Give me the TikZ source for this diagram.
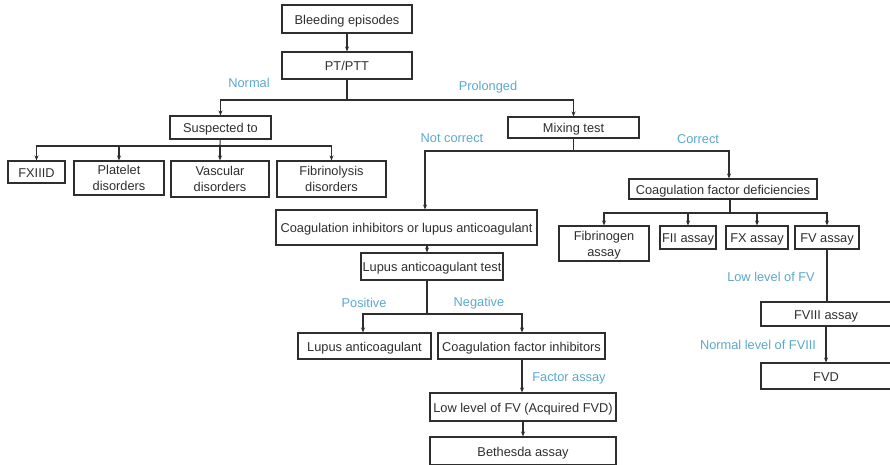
\documentclass[tikz,border=0pt]{standalone}
\usepackage{fontspec}
\setmainfont{Liberation Sans}
\usetikzlibrary{arrows.meta}
\definecolor{ink}{HTML}{2E2E2E}
\definecolor{branch}{HTML}{5BA8CB}
\begin{document}
\begin{tikzpicture}[x=1pt,y=-1pt,
  font=\fontsize{12.8}{16}\selectfont,
  box/.style={draw=ink,line width=1.1pt,text=ink,inner sep=0pt,
    minimum width=#1,text height=10.5pt,text depth=0.5pt},
  tallbox/.style={draw=ink,line width=1.1pt,text=ink,inner sep=0pt,align=center,
    minimum width=#1,text depth=-1pt},
  lbl/.style={text=branch,inner sep=0pt},
  link/.style={draw=ink,line width=1.1pt},
  arr/.style={link,-{Stealth[length=5pt,width=4pt]}}]
\useasboundingbox (0,0) rectangle (890,464);

% boxes
\node[box=130,minimum height=28] (bleed) at (347,19) {Bleeding episodes};
\node[box=130,minimum height=27] (pt) at (347,65.5) {PT/PTT};
\node[box=101,minimum height=23] (susp) at (220.5,127.5) {Suspected to};
\node[box=57,minimum height=22] (fxiii) at (36.5,172) {FXIIID};
\node[tallbox=90,minimum height=34] (plat) at (119,178) {Platelet\\disorders};
\node[tallbox=98,minimum height=36] (vasc) at (220,179) {Vascular\\disorders};
\node[tallbox=109,minimum height=36] (fibl) at (331.5,179) {Fibrinolysis\\disorders};
\node[box=131,minimum height=21] (mix) at (573.5,127.5) {Mixing test};
\node[box=261,minimum height=35] (cila) at (406.5,227.5) {Coagulation inhibitors or lupus anticoagulant};
\node[box=142,minimum height=27] (lat) at (432,266.5) {Lupus anticoagulant test};
\node[box=133,minimum height=26] (la) at (364.5,346) {Lupus anticoagulant};
\node[box=167,minimum height=26] (cfi) at (521.5,346) {Coagulation factor inhibitors};
\node[box=186,minimum height=28] (lowfv) at (523,407) {Low level of FV (Acquired FVD)};
\node[box=186,minimum height=28] (beth) at (523,451) {Bethesda assay};
\node[box=188,minimum height=20] (cfd) at (723,189) {Coagulation factor deficiencies};
\node[tallbox=90,minimum height=35] (fib) at (604,243.5) {Fibrinogen\\assay};
\node[box=56,minimum height=23] (f2) at (688,237.5) {FII assay};
\node[box=62,minimum height=23] (fx) at (757,237.5) {FX assay};
\node[box=64,minimum height=23] (fv) at (827,237.5) {FV assay};
\node[box=130,minimum height=24] (f8) at (826,314) {FVIII assay};
\node[box=130,minimum height=26] (fvd) at (826,376) {FVD};

% branch labels
\node[lbl] (lnormal) at (249,83) {Normal};
\node[lbl] (lprol) at (488,87) {Prolonged};
\node[lbl] (lnotc) at (452,138) {Not correct};
\node[lbl] (lcorr) at (698,139) {Correct};
\node[lbl] (lpos) at (364,303) {Positive};
\node[lbl] (lneg) at (479,303) {Negative};
\node[lbl] (lfa) at (569,378) {Factor assay};
\node[lbl] (llowfv) at (771,277) {Low level of FV};
\node[lbl] (lnormf8) at (758,345) {Normal level of FVIII};

% junction points
\coordinate (jpt) at (347,100);
\coordinate (jsusp) at (220,146);
\coordinate (jmix) at (573.5,151);
\coordinate (jlat) at (427,314);
\coordinate (jcfd) at (730,213);

% connectors
\draw[arr] (bleed) -- (pt);
\draw[link] (pt) -- (jpt);
\draw[arr] (jpt) -| (susp.north);
\draw[arr] (jpt) -| (mix.north);

\draw[link] (susp) -- (jsusp);
\draw[arr] (jsusp) -| (fxiii.north);
\draw[arr] (jsusp) -| (plat.north);
\draw[arr] (jsusp) -- (vasc.north);
\draw[arr] (jsusp) -| (fibl.north);

\draw[link] (mix) -- (jmix);
\draw[arr] (jmix) -| ([xshift=18.5pt]cila.north);
\draw[arr] (jmix) -| ([xshift=6pt]cfd.north);

\draw[arr] ([xshift=20.5pt]cila.south) -- ([xshift=-5pt]lat.north);
\draw[link] ([xshift=-5pt]lat.south) -- (jlat);
\draw[arr] (jlat) -| ([xshift=-1.5pt]la.north);
\draw[arr] (jlat) -| ([xshift=0.5pt]cfi.north);

\draw[arr] ([xshift=0.5pt]cfi.south) -- ([xshift=-1pt]lowfv.north);
\draw[arr] (lowfv) -- (beth);

\draw[link] ([xshift=7pt]cfd.south) -- (jcfd);
\draw[arr] (jcfd) -| (fib.north);
\draw[arr] (jcfd) -| (f2.north);
\draw[arr] (jcfd) -| (fx.north);
\draw[arr] (jcfd) -| (fv.north);

\draw[link] (fv.south) -- ([xshift=1pt]f8.north);
\draw[arr] (f8) -- (fvd);
\end{tikzpicture}
\end{document}
